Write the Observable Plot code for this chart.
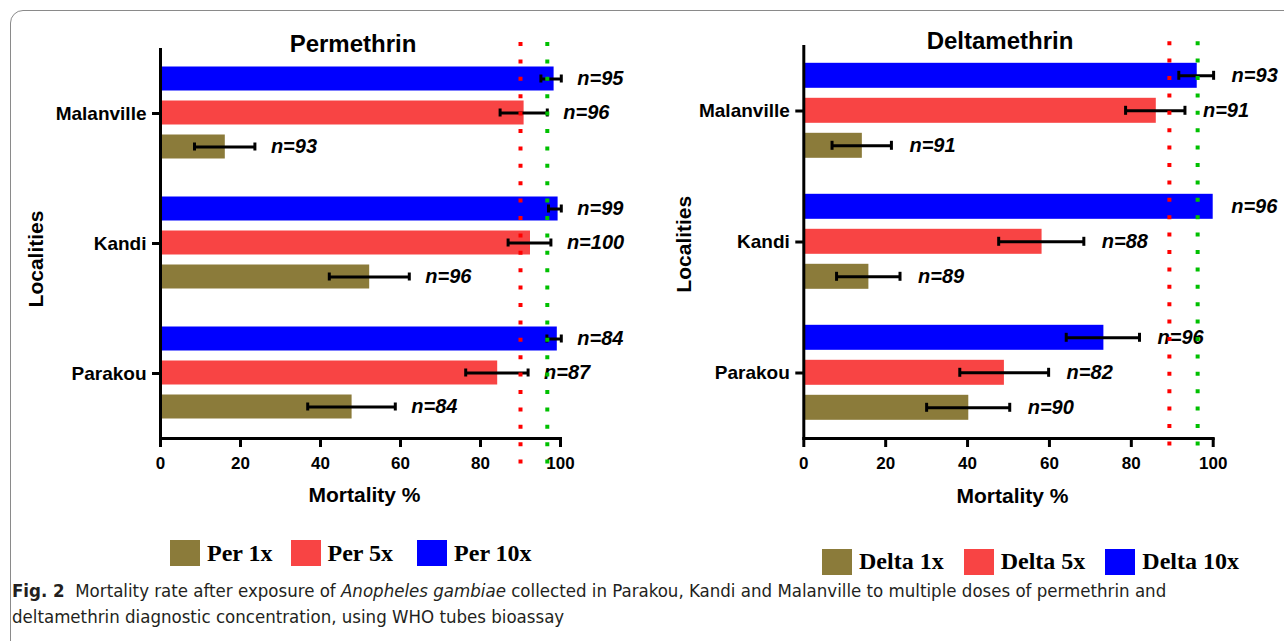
<!DOCTYPE html>
<html>
<head>
<meta charset="utf-8">
<script src="https://cdn.jsdelivr.net/npm/d3@7"></script>
<script src="https://cdn.jsdelivr.net/npm/@observablehq/plot@0.6"></script>
<style>
  body { margin: 0; background: #fff; }
  #fig { position: relative; width: 1284px; height: 641px; overflow: hidden; font-family: "Liberation Sans", Arial, sans-serif; color: #000; }
  #box { position: absolute; left: 10px; top: 10px; width: 1320px; height: 700px; border: 1.3px solid #8a8a8a; border-radius: 13px; }
  .title { position: absolute; font-weight: bold; font-size: 24px; text-align: center; width: 300px; line-height: 28px; }
  .chart { position: absolute; top: 0; height: 510px; }
  .chart svg { position: absolute; left: 0; top: 0; max-width: none !important; }
  .legend { position: absolute; display: flex; align-items: center; font-family: "Liberation Serif", "Times New Roman", serif; font-weight: bold; font-size: 24px; white-space: nowrap; }
  .legend .sw { display: inline-block; width: 30px; height: 26px; margin-right: 7px; }
  .legend .lab { margin-right: 20px; }
  #legLeft .lab { margin-right: 18px; }
  #legLeft .lab:nth-of-type(4) { margin-right: 24px; }
  #caption { position: absolute; left: 12px; top: 578px; font-family: "Liberation Sans Narrow", "DejaVu Sans Condensed", "Noto Sans", sans-serif; font-size: 18.5px; line-height: 26px; white-space: nowrap; color: #231f20; }
</style>
</head>
<body>
<div id="fig">
  <div id="box"></div>
  <div class="title" style="left:203px; top:30px;">Permethrin</div>
  <div class="title" style="left:850px; top:27px;">Deltamethrin</div>
  <div class="chart" id="left" style="left:0px; width:640px;"></div>
  <div class="chart" id="right" style="left:640px; width:644px;"></div>
  <div class="legend" id="legLeft" style="left:170px; top:540px; height:26px;"></div>
  <div class="legend" id="legRight" style="left:822px; top:548px; height:27px;"></div>
  <div id="caption"><b>Fig. 2</b>&nbsp; Mortality rate after exposure of <i>Anopheles gambiae</i> collected in Parakou, Kandi and Malanville to multiple doses of permethrin and<br>deltamethrin diagnostic concentration, using WHO tubes bioassay</div>
</div>
<script>
// ---- data ----
const localities = ["Malanville", "Kandi", "Parakou"];
const doses = ["1x", "5x", "10x"];
const doseOrder = ["10x", "5x", "1x"];
const doseColors = ["#8b7b3a", "#f84444", "#0000ff"];
const xTicks = [0, 20, 40, 60, 80, 100];
const thresholdColors = ["#ff0000", "#00c000"];

// Permethrin mortality (%) per locality
const per1x = [16.2, 52.3, 47.9];
const per1xLo = [8.5, 42.2, 36.8];
const per1xHi = [23.6, 62.2, 58.7];
const per1xN = [93, 96, 84];
const per5x = [90.9, 92.5, 84.3];
const per5xLo = [84.9, 86.9, 76.3];
const per5xHi = [96.7, 97.6, 91.9];
const per5xN = [96, 100, 87];
const per10x = [98.4, 99.4, 99.2];
const per10xLo = [95.1, 97.0, 96.6];
const per10xHi = [100.2, 100.2, 100.2];
const per10xN = [95, 99, 84];
const perThresholds = [90, 96.7];
const perLegend = ["Per 1x", "Per 5x", "Per 10x"];

// Deltamethrin mortality (%) per locality
const del1x = [14.3, 15.9, 40.3];
const del1xLo = [6.9, 8.0, 30.0];
const del1xHi = [21.4, 23.5, 50.3];
const del1xN = [91, 89, 90];
const del5x = [86.1, 58.2, 49.0];
const del5xLo = [78.6, 47.6, 38.1];
const del5xHi = [93.1, 68.4, 59.8];
const del5xN = [91, 88, 82];
const del10x = [96.1, 100, 73.3];
const del10xLo = [91.6, null, 64.1];
const del10xHi = [100.1, null, 82.0];
const del10xN = [93, 96, 96];
const delThresholds = [89.3, 96.2];
const delLegend = ["Delta 1x", "Delta 5x", "Delta 10x"];

function buildRows(series) {
  const rows = [];
  localities.forEach((loc, i) => {
    doses.forEach((dose, j) => {
      const s = series[j];
      rows.push({loc, dose, value: s.v[i], lo: s.lo[i], hi: s.hi[i], n: s.n[i]});
    });
  });
  return rows;
}

const fontFamily = "'Liberation Sans', Arial, sans-serif";

function drawChart(rows, cfg) {
  const errRows = rows.filter(d => d.lo != null && d.hi != null);
  return Plot.plot({
    width: cfg.width,
    height: cfg.height,
    marginLeft: cfg.marginLeft,
    marginRight: cfg.marginRight,
    marginTop: cfg.marginTop,
    marginBottom: cfg.marginBottom,
    style: {fontFamily, background: "transparent", color: "black", overflow: "visible"},
    x: {domain: [0, 100]},
    y: {domain: doseOrder, axis: null, paddingInner: 0.2857, paddingOuter: 0.5},
    fy: {domain: localities, paddingInner: 0, paddingOuter: 0},
    color: {domain: doses, range: doseColors},
    marks: [
      Plot.barX(rows, {fy: "loc", y: "dose", x: "value", fill: "dose"}),
      Plot.ruleX([0], {x: d => d, strokeWidth: 3}),
      Plot.frame({anchor: "bottom", facet: "super", strokeWidth: 3}),
      Plot.axisX({ticks: xTicks, tickSize: 9, strokeWidth: 3, tickPadding: 9, fontSize: 17, fontWeight: "bold", label: null}),
      Plot.axisFy({anchor: "left", tickSize: 8, strokeWidth: 3, tickPadding: 6, fontSize: 19, fontWeight: "bold", label: null}),
      Plot.text(rows, {fy: "loc", y: "dose", x: d => (d.hi != null ? d.hi : d.value), text: d => "n=" + d.n,
        dx: cfg.labelDx, textAnchor: "start", fontSize: 20, fontWeight: "bold", fontStyle: "italic"}),
      Plot.ruleY(errRows, {fy: "loc", y: "dose", x1: "lo", x2: "hi", strokeWidth: 3}),
      Plot.tickX(errRows, {fy: "loc", y: "dose", x: "lo", strokeWidth: 3, insetTop: 8, insetBottom: 8}),
      Plot.tickX(errRows, {fy: "loc", y: "dose", x: "hi", strokeWidth: 3, insetTop: 8, insetBottom: 8})
    ]
  });
}

// overlay sharing the same x scale: threshold lines and axis titles
function drawOverlay(thresholds, cfg) {
  return Plot.plot({
    width: cfg.width,
    height: cfg.height,
    marginLeft: cfg.marginLeft,
    marginRight: cfg.marginRight,
    marginTop: cfg.marginTop,
    marginBottom: cfg.marginBottom,
    style: {fontFamily, background: "transparent", color: "black", overflow: "visible", pointerEvents: "none"},
    x: {domain: [0, 100], axis: null},
    y: {axis: null},
    marks: [
      ...thresholds.map((t, k) =>
        Plot.ruleX([t], {x: d => d, stroke: thresholdColors[k], strokeWidth: 4, strokeDasharray: "4,13.4",
          insetTop: cfg.extTop, insetBottom: cfg.extBottom})),
      Plot.text(["Localities"], {text: d => d, frameAnchor: "left", textAnchor: "middle", lineAnchor: "middle",
        rotate: -90, dx: cfg.locDx, dy: cfg.locDy, fontSize: 21, fontWeight: "bold"}),
      Plot.text(["Mortality %"], {text: d => d, frameAnchor: "bottom", textAnchor: "middle", lineAnchor: "middle",
        dx: 4, dy: cfg.mortDy, fontSize: 21, fontWeight: "bold"})
    ]
  });
}

function drawLegend(el, labels) {
  labels.forEach((lab, i) => {
    const sw = document.createElement("span");
    sw.className = "sw";
    sw.style.background = doseColors[i];
    const t = document.createElement("span");
    t.className = "lab";
    t.textContent = lab;
    el.appendChild(sw);
    el.appendChild(t);
  });
}

const perRows = buildRows([
  {v: per1x, lo: per1xLo, hi: per1xHi, n: per1xN},
  {v: per5x, lo: per5xLo, hi: per5xHi, n: per5xN},
  {v: per10x, lo: per10xLo, hi: per10xHi, n: per10xN}
]);
const delRows = buildRows([
  {v: del1x, lo: del1xLo, hi: del1xHi, n: del1xN},
  {v: del5x, lo: del5xLo, hi: del5xHi, n: del5xN},
  {v: del10x, lo: del10xLo, hi: del10xHi, n: del10xN}
]);

const leftCfg = {width: 640, height: 510, marginLeft: 160, marginRight: 80, marginTop: 47.5, marginBottom: 72.5,
  extTop: -5.5, extBottom: -29, locDx: -124, locDy: 16, mortDy: 57, labelDx: 16};
const rightCfg = {width: 644, height: 510, marginLeft: 163.3, marginRight: 71.3, marginTop: 44.2, marginBottom: 70.8,
  extTop: -3, extBottom: -15, locDx: -120, locDy: 2, mortDy: 57, labelDx: 18};

const leftEl = document.getElementById("left");
leftEl.appendChild(drawChart(perRows, leftCfg));
leftEl.appendChild(drawOverlay(perThresholds, leftCfg));
const rightEl = document.getElementById("right");
rightEl.appendChild(drawChart(delRows, rightCfg));
rightEl.appendChild(drawOverlay(delThresholds, rightCfg));
drawLegend(document.getElementById("legLeft"), perLegend);
drawLegend(document.getElementById("legRight"), delLegend);
</script>
</body>
</html>
